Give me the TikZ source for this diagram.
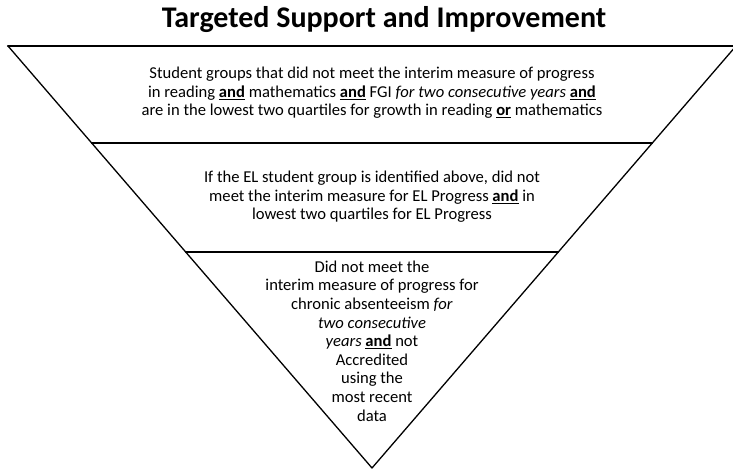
\documentclass[tikz,border=0pt]{standalone}
\usepackage{fontspec}
\setmainfont{Carlito}
\usepackage{tikz}
\usetikzlibrary{calc}

\tikzset{
    tiertext/.style={align=center, font=\fontsize{16.6}{18.6}\selectfont, inner sep=0pt},
    tierline/.style={line width=1.8pt}
}
\newcommand{\andword}{\underline{\textbf{and}}}

\begin{document}
\begin{tikzpicture}[x=1pt, y=-1pt, line cap=round, line join=round]
    \useasboundingbox (0,0) rectangle (733,470);

    % corners of the funnel
    \coordinate (topL) at (8,46);
    \coordinate (topR) at (736,46);
    \coordinate (apex) at (372,468);

    % title
    \node (title) at (384,20) {\fontsize{30}{34}\selectfont\bfseries Targeted Support and Improvement};

    % outline
    \draw[line width=1.3pt] (topL) -- (apex) -- (topR);
    \draw[line width=2.2pt] (topL) -- (topR);

    % dividers between the tiers
    \coordinate (midL1) at ($(topL)!0.2299!(apex)$);
    \coordinate (midR1) at ($(topR)!0.2299!(apex)$);
    \coordinate (midL2) at ($(topL)!0.4882!(apex)$);
    \coordinate (midR2) at ($(topR)!0.4882!(apex)$);
    \draw[tierline] (midL1) -- (midR1);
    \draw[tierline] (midL2) -- (midR2);

    % tier texts
    \node[tiertext] (tierA) at (372,93) {Student groups that did not meet the interim measure of progress\\
        in reading \andword{} mathematics \andword{} FGI \textit{for two consecutive years} \andword\\
        are in the lowest two quartiles for growth in reading \underline{\textbf{or}} mathematics};
    \node[tiertext] (tierB) at (372,197) {If the EL student group is identified above, did not\\
        meet the interim measure for EL Progress \andword{} in\\
        lowest two quartiles for EL Progress};
    \node[tiertext] (tierC) at (372,341) {Did not meet the\\
        interim measure of progress for\\
        chronic absenteeism \textit{for}\\
        \textit{two consecutive}\\
        \textit{years} \andword{} not\\
        Accredited\\
        using the\\
        most recent\\
        data};
\end{tikzpicture}
\end{document}
